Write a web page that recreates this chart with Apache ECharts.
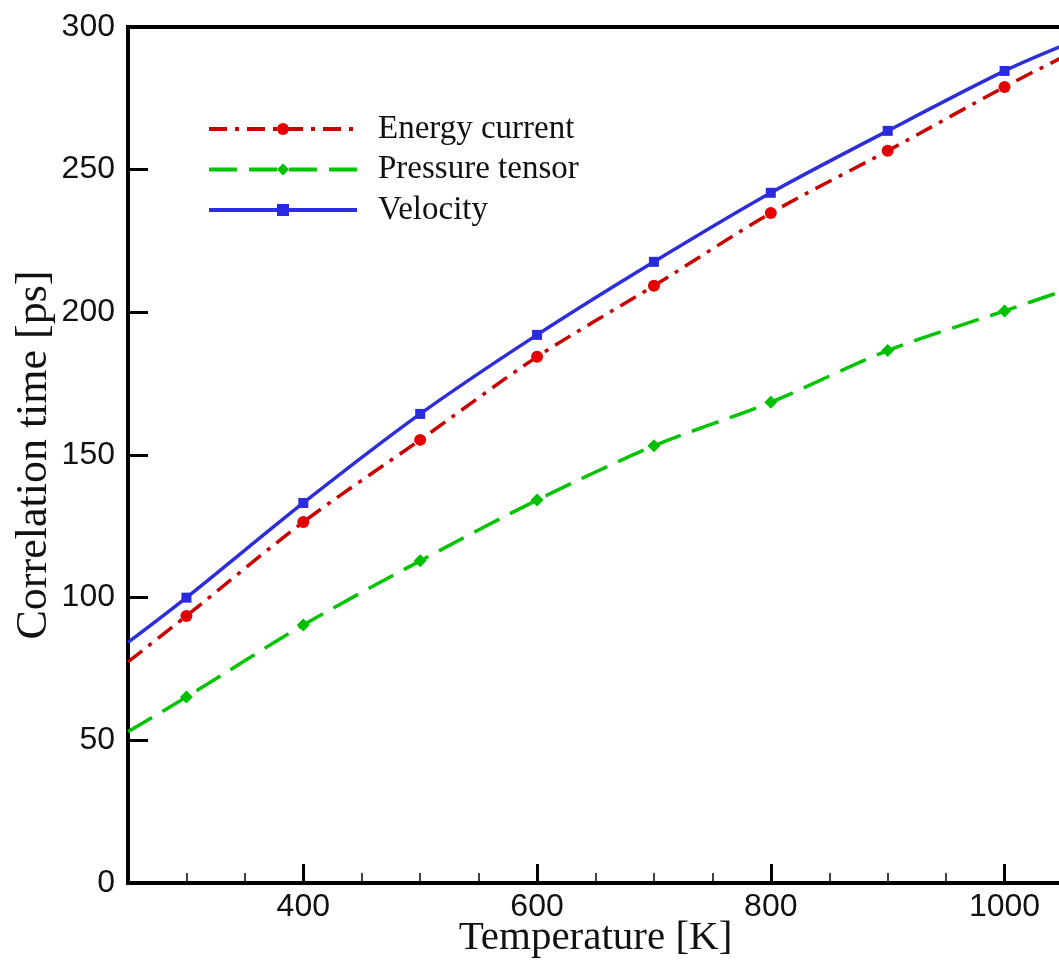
<!DOCTYPE html>
<html>
<head>
<meta charset="utf-8">
<title>Correlation time vs temperature</title>
<script src="https://cdn.jsdelivr.net/npm/echarts@6/dist/echarts.min.js"></script>
<style>
  html, body { margin: 0; padding: 0; background: #fff; }
  #chart { width: 1059px; height: 966px; }
</style>
</head>
<body>
<div id="chart"></div>
<script>
// Temperatures (K); the first and last entries are where the fitted curves meet the frame
const temperatures = [250, 300, 400, 500, 600, 700, 800, 900, 1000, 1050];

// Correlation times (ps)
const energyCurrent  = [77.5, 93.6, 126.5, 155.3, 184.4, 209.3, 234.8, 256.6, 279.0, 289.5];
const pressureTensor = [53.0, 65.2, 90.4, 112.9, 134.2, 153.2, 168.5, 186.6, 200.5, 207.5];
const velocity       = [84.3, 100.0, 133.2, 164.4, 192.1, 217.7, 241.9, 263.6, 284.6, 293.5];

// Axis ticks
const xMajorTicks = [400, 600, 800, 1000];
const xMinorTicks = [300, 350, 450, 500, 550, 650, 700, 750, 850, 900, 950, 1050];
const yTicks = [0, 50, 100, 150, 200, 250, 300];

// Only measured temperatures carry a marker; the curve ends are plain line
function toPoints(values) {
  const last = temperatures.length - 1;
  return temperatures.map((t, i) => {
    const item = { value: [t, values[i]] };
    if (i === 0 || i === last) item.symbol = 'none';
    return item;
  });
}

const chart = echarts.init(document.getElementById('chart'), null, { renderer: 'canvas' });

const sansLabel = { fontFamily: 'Liberation Sans', fontSize: 32, color: '#111' };
const serifName = { fontFamily: 'Liberation Serif', color: '#111' };

chart.setOption({
  backgroundColor: '#ffffff',
  animation: false,
  grid: {
    left: 128, right: -4, top: 27, bottom: 83,
    outerBoundsMode: 'none', containLabel: false,
    show: true, borderColor: '#000', borderWidth: 4, backgroundColor: 'transparent'
  },
  legend: {
    orient: 'vertical',
    left: 207, top: 109, padding: 0,
    itemWidth: 148, itemHeight: 15, itemGap: 0.5,
    lineStyle: { width: 4 },
    textStyle: {
      fontFamily: 'Liberation Serif', fontSize: 33, color: '#111',
      lineHeight: 40, padding: [0, 0, 0, 16]
    },
    data: ['Energy current', 'Pressure tensor', 'Velocity']
  },
  xAxis: [
    {
      type: 'value', min: 250, max: 1050, position: 'bottom',
      name: 'Temperature [K]', nameLocation: 'middle', nameGap: 35, nameMoveOverlap: false,
      nameTextStyle: Object.assign({ fontSize: 41 }, serifName),
      axisLine: { show: true, lineStyle: { color: '#000', width: 4 } },
      axisTick: { show: true, inside: true, length: 19, customValues: xMajorTicks,
                  lineStyle: { color: '#000', width: 3 } },
      axisLabel: Object.assign({ margin: 8, customValues: xMajorTicks,
                                 formatter: v => String(v) }, sansLabel),
      splitLine: { show: false }
    },
    {
      type: 'value', min: 250, max: 1050, position: 'bottom',
      axisLine: { show: false },
      axisTick: { show: true, inside: true, length: 10, customValues: xMinorTicks,
                  lineStyle: { color: '#000', width: 1.5 } },
      axisLabel: { show: false },
      splitLine: { show: false }
    }
  ],
  yAxis: {
    type: 'value', min: 0, max: 300, interval: 50,
    name: 'Correlation time [ps]', nameLocation: 'middle', nameGap: 72, nameRotate: 90,
    nameMoveOverlap: false,
    nameTextStyle: Object.assign({ fontSize: 44 }, serifName),
    axisLine: { show: true, lineStyle: { color: '#000', width: 4 } },
    axisTick: { show: true, inside: true, length: 20, customValues: yTicks,
                lineStyle: { color: '#000', width: 3 } },
    axisLabel: Object.assign({ margin: 13, formatter: v => String(v) }, sansLabel),
    splitLine: { show: false }
  },
  series: [
    {
      name: 'Energy current', type: 'line', smooth: 0.3,
      data: toPoints(energyCurrent),
      symbol: 'circle', symbolSize: 12,
      itemStyle: { color: '#e40000' },
      lineStyle: { color: '#c80000', width: 3.5, type: [18, 8, 4, 8] },
      z: 3
    },
    {
      name: 'Pressure tensor', type: 'line', smooth: 0.3,
      data: toPoints(pressureTensor),
      symbol: 'diamond', symbolSize: 13,
      itemStyle: { color: '#00c000' },
      lineStyle: { color: '#00c400', width: 3.5, type: [28, 12] },
      z: 2
    },
    {
      name: 'Velocity', type: 'line', smooth: 0.3,
      data: toPoints(velocity),
      symbol: 'rect', symbolSize: 10,
      itemStyle: { color: '#2a2ae0' },
      lineStyle: { color: '#2e2ed8', width: 3.5, type: 'solid' },
      z: 4
    }
  ]
});
</script>
</body>
</html>
